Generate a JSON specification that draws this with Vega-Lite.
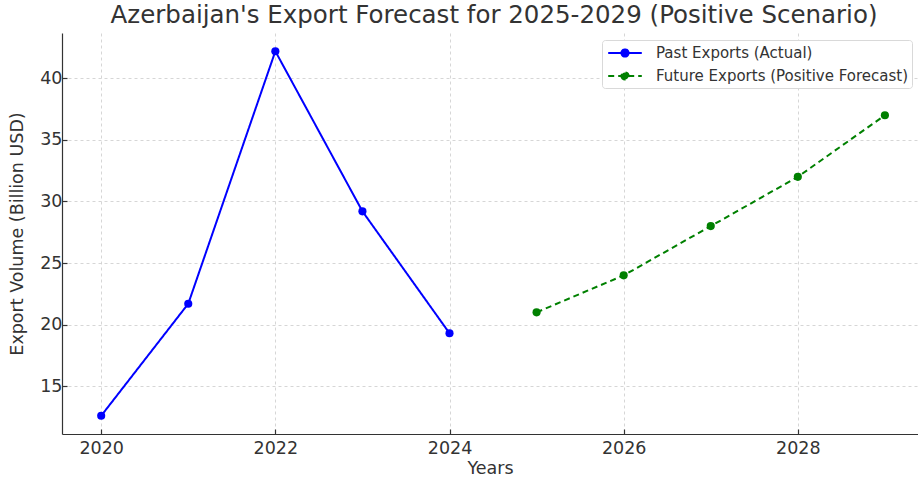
{
  "$schema": "https://vega.github.io/schema/vega-lite/v6.json",
  "width": 856,
  "height": 401,
  "autosize": {"type": "none"},
  "padding": {"left": 62, "top": 33, "right": 0, "bottom": 47},
  "background": "white",
  "title": {
    "text": "Azerbaijan's Export Forecast for 2025-2029 (Positive Scenario)",
    "font": "DejaVu Sans",
    "fontSize": 24.5,
    "fontWeight": "normal",
    "color": "#333333",
    "anchor": "middle",
    "baseline": "alphabetic",
    "offset": 9,
    "dx": 4,
    "dy": 23
  },
  "config": {
    "view": {"stroke": null},
    "font": "DejaVu Sans",
    "axis": {
      "domainColor": "#333333",
      "domainWidth": 1.2,
      "tickColor": "#333333",
      "tickSize": -5,
      "tickWidth": 1.2,
      "labelColor": "#333333",
      "labelFontSize": 17.5,
      "labelFont": "DejaVu Sans",
      "titleFont": "DejaVu Sans",
      "titleFontSize": 17.5,
      "titleFontWeight": "normal",
      "titleColor": "#333333",
      "gridColor": "#cccccc",
      "gridDash": [3, 3],
      "gridWidth": 0.8
    }
  },
  "data": {
    "values": [
      {"year": 2020, "value": 12.6, "series": "Past Exports (Actual)"},
      {"year": 2021, "value": 21.7, "series": "Past Exports (Actual)"},
      {"year": 2022, "value": 42.2, "series": "Past Exports (Actual)"},
      {"year": 2023, "value": 29.2, "series": "Past Exports (Actual)"},
      {"year": 2024, "value": 19.3, "series": "Past Exports (Actual)"},
      {"year": 2025, "value": 21.0, "series": "Future Exports (Positive Forecast)"},
      {"year": 2026, "value": 24.0, "series": "Future Exports (Positive Forecast)"},
      {"year": 2027, "value": 28.0, "series": "Future Exports (Positive Forecast)"},
      {"year": 2028, "value": 32.0, "series": "Future Exports (Positive Forecast)"},
      {"year": 2029, "value": 37.0, "series": "Future Exports (Positive Forecast)"}
    ]
  },
  "mark": {"type": "line", "strokeWidth": 2, "point": {"filled": true, "size": 66, "opacity": 1}},
  "encoding": {
    "x": {
      "field": "year",
      "type": "quantitative",
      "scale": {"domain": [2019.55, 2029.38], "nice": false, "zero": false},
      "axis": {"values": [2020, 2022, 2024, 2026, 2028], "format": "d", "title": "Years", "labelPadding": 10, "titlePadding": 3}
    },
    "y": {
      "field": "value",
      "type": "quantitative",
      "scale": {"domain": [11.12, 43.68], "nice": false, "zero": false},
      "axis": {"values": [15, 20, 25, 30, 35, 40], "title": "Export Volume (Billion USD)", "labelPadding": 5, "titlePadding": 13}
    },
    "color": {
      "field": "series",
      "type": "nominal",
      "scale": {
        "domain": ["Past Exports (Actual)", "Future Exports (Positive Forecast)"],
        "range": ["#0000ff", "#008000"]
      },
      "legend": {
        "title": null,
        "orient": "none",
        "legendX": 540,
        "legendY": 7,
        "padding": 4,
        "strokeColor": "#d9d9d9",
        "fillColor": "white",
        "cornerRadius": 3,
        "labelFontSize": 15,
        "labelColor": "#333333",
        "labelFont": "DejaVu Sans",
        "labelLimit": 400,
        "symbolType": "M-2.1,0H2.1M-0.45,0A0.45,0.45 0 1,0 0.45,0A0.45,0.45 0 1,0 -0.45,0",
        "symbolSize": 256,
        "symbolStrokeWidth": 2,
        "symbolOffset": 10,
        "rowPadding": 6,
        "labelOffset": 22,
        "encode": {"symbols": {"update": {"fill": {"scale": "color", "field": "value"}}}}
      }
    },
    "strokeDash": {
      "field": "series",
      "type": "nominal",
      "scale": {
        "domain": ["Past Exports (Actual)", "Future Exports (Positive Forecast)"],
        "range": [[1, 0], [6, 4]]
      },
      "legend": null
    }
  }
}
